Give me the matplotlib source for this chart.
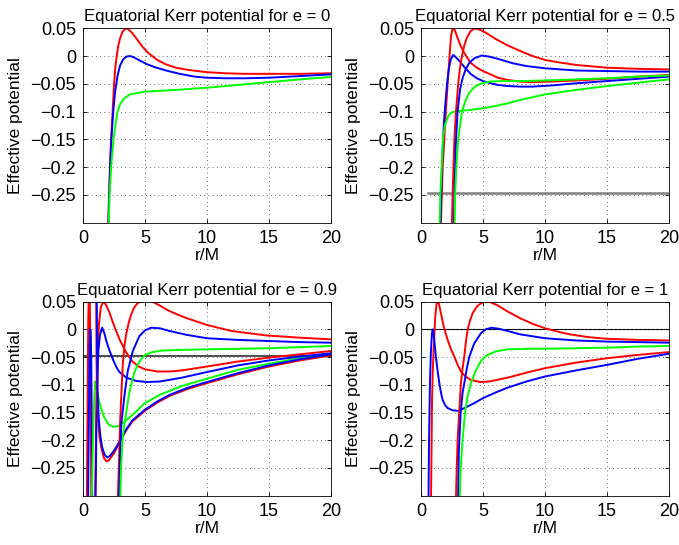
import matplotlib
matplotlib.use("Agg")
import matplotlib.pyplot as plt

plt.rcParams['font.family'] = ['Liberation Sans', 'DejaVu Sans']
plt.rcParams['font.size'] = 12

# spin values shown in the titles
e_values = ["0", "0.5", "0.9", "1"]

# ---- e = 0 : (r/M, effective potential)
e0_red = [(2.03, -0.32), (2.1, -0.26), (2.2, -0.19), (2.3, -0.14), (2.4, -0.1), (2.52, -0.05),
          (2.62, -0.02), (2.73, 0.0), (2.85, 0.018), (3.0, 0.032), (3.2, 0.044), (3.45, 0.05),
          (3.7, 0.048), (4.0, 0.041), (4.4, 0.029), (4.8, 0.017), (5.3, 0.005), (6.0, -0.007),
          (6.7, -0.015), (7.5, -0.021), (8.5, -0.025), (10, -0.029), (11.5, -0.031), (13, -0.032),
          (15, -0.032), (17.5, -0.032), (20, -0.031)]
e0_blue = [(2.04, -0.32), (2.1, -0.27), (2.2, -0.2), (2.3, -0.15), (2.45, -0.1), (2.6, -0.065),
           (2.8, -0.035), (3.0, -0.017), (3.25, -0.006), (3.5, -0.001), (3.8, 0.0), (4.1, -0.002),
           (4.5, -0.007), (5.1, -0.014), (5.8, -0.02), (6.7, -0.026), (7.8, -0.032), (9, -0.037),
           (10, -0.039), (11.5, -0.04), (13, -0.04), (15, -0.039), (17.5, -0.036), (20, -0.033)]
e0_green = [(2.07, -0.32), (2.15, -0.25), (2.28, -0.2), (2.47, -0.15), (2.65, -0.12), (2.8, -0.1),
            (3.0, -0.087), (3.3, -0.077), (3.8, -0.069), (4.5, -0.066), (5, -0.064), (7.5, -0.061),
            (10, -0.057), (12.5, -0.052), (15, -0.047), (17.5, -0.042), (20, -0.0375)]

# ---- e = 0.5
e05_red_pro = [(1.58, -0.32), (1.65, -0.27), (1.75, -0.2), (1.88, -0.15), (2.0, -0.1), (2.15, -0.05),
               (2.3, 0.0), (2.42, 0.035), (2.55, 0.05), (2.7, 0.048), (2.96, 0.032), (3.2, 0.018),
               (3.5, 0.005), (4.0, -0.012), (4.5, -0.021), (5.0, -0.027), (5.6, -0.033), (6.2, -0.039),
               (7.0, -0.043), (8.0, -0.046), (9, -0.047), (10.5, -0.046), (12.5, -0.044), (15, -0.041),
               (17.5, -0.037), (20, -0.034)]
e05_blue_pro = [(1.55, -0.32), (1.62, -0.25), (1.72, -0.18), (1.85, -0.12), (1.95, -0.09), (2.1, -0.05),
                (2.25, -0.022), (2.4, -0.006), (2.6, 0.002), (2.8, -0.002), (3.1, -0.009), (3.5, -0.02),
                (4.0, -0.032), (4.5, -0.04), (5.0, -0.045), (5.6, -0.049), (6.2, -0.052), (7, -0.054),
                (8, -0.055), (9, -0.055), (10.5, -0.053), (12.5, -0.049), (15, -0.045), (17.5, -0.041),
                (20, -0.037)]
e05_green_pro = [(1.48, -0.32), (1.56, -0.25), (1.67, -0.2), (1.77, -0.15), (1.9, -0.128), (2.0, -0.12),
                 (2.2, -0.108), (2.42, -0.102), (2.7, -0.1), (3.0, -0.099), (3.5, -0.098), (4.0, -0.097),
                 (5, -0.094), (6, -0.09), (7, -0.085), (8, -0.079), (10, -0.069), (12.5, -0.061),
                 (15, -0.054), (17.5, -0.048), (20, -0.042)]
e05_red_ret = [(2.47, -0.32), (2.55, -0.25), (2.69, -0.15), (2.82, -0.1), (3.0, -0.05), (3.15, -0.02),
               (3.3, 0.0), (3.5, 0.02), (3.7, 0.033), (4.0, 0.045), (4.35, 0.05), (4.8, 0.047),
               (5.3, 0.041), (6, 0.031), (7, 0.019), (8, 0.009), (9, 0.0), (10, -0.007), (11, -0.011),
               (12.5, -0.016), (15, -0.021), (17.5, -0.023), (20, -0.024)]
e05_blue_ret = [(2.63, -0.32), (2.7, -0.25), (2.8, -0.16), (2.95, -0.1), (3.15, -0.06), (3.35, -0.04),
                (3.6, -0.024), (3.9, -0.012), (4.3, -0.004), (4.9, 0.001), (5.5, -0.001), (6.2, -0.005),
                (7.4, -0.013), (8.5, -0.018), (10, -0.022), (12.5, -0.026), (15, -0.027), (17.5, -0.028),
                (20, -0.028)]
e05_green_ret = [(2.7, -0.32), (2.75, -0.25), (2.85, -0.2), (3.0, -0.15), (3.3, -0.1), (3.6, -0.08),
                 (3.9, -0.066), (4.3, -0.056), (4.8, -0.05), (5.5, -0.046), (6.5, -0.045), (8, -0.045),
                 (10, -0.044), (12.5, -0.042), (15, -0.04), (17.5, -0.037), (20, -0.035)]
e05_level = (-0.246, 0.6, 20)

# ---- e = 0.9
e09_red_spike = [(0.32, -0.32), (0.36, -0.2), (0.40, -0.08), (0.44, 0.02), (0.48, 0.06), (0.52, 0.07),
                 (0.56, 0.05), (0.6, -0.02), (0.64, -0.15), (0.68, -0.32)]
e09_blue_spike = [(0.42, -0.32), (0.47, -0.2), (0.52, -0.08), (0.56, -0.02), (0.6, 0.0), (0.64, -0.01),
                  (0.68, -0.06), (0.72, -0.18), (0.76, -0.32)]
e09_green_pro = [(0.7, -0.32), (0.8, -0.22), (0.88, -0.15), (0.95, -0.11), (1.0, -0.094), (1.1, -0.105),
                 (1.2, -0.118), (1.35, -0.132), (1.5, -0.145), (1.75, -0.16), (2.1, -0.172), (2.5, -0.176),
                 (2.9, -0.174), (3.5, -0.164), (4.3, -0.148), (5, -0.133), (6.2, -0.118), (8, -0.102),
                 (10, -0.089), (12.5, -0.073), (15, -0.062), (17.5, -0.052), (20, -0.044)]
e09_red_pro = [(0.98, -0.32), (1.05, -0.2), (1.12, -0.1), (1.2, -0.03), (1.3, 0.01), (1.45, 0.04),
               (1.66, 0.05), (1.85, 0.045), (2.15, 0.03), (2.4, 0.014), (2.68, -0.003), (3.0, -0.02),
               (3.5, -0.042), (4.0, -0.058), (4.5, -0.067), (5.0, -0.072), (6.0, -0.076), (7, -0.076),
               (8, -0.074), (10, -0.067), (12.5, -0.058), (15, -0.051), (17.5, -0.045), (20, -0.039)]
e09_blue_pro = [(1.02, -0.32), (1.08, -0.2), (1.15, -0.1), (1.25, -0.04), (1.38, -0.01), (1.56, 0.003),
                (1.75, -0.008), (1.88, -0.02), (2.1, -0.035), (2.42, -0.054), (2.7, -0.068), (2.95, -0.077),
                (3.5, -0.087), (4.3, -0.093), (5.2, -0.095), (6.2, -0.094), (7, -0.091), (8, -0.087),
                (10, -0.077), (12.5, -0.065), (15, -0.056), (17.5, -0.049), (20, -0.043)]
e09_red_low = [(1.08, 0.06), (1.1, -0.05), (1.13, -0.1), (1.18, -0.14), (1.25, -0.17), (1.35, -0.195),
               (1.5, -0.215), (1.7, -0.232), (1.9, -0.238), (2.1, -0.236), (2.5, -0.224), (3.0, -0.202),
               (3.5, -0.182), (4, -0.166), (5, -0.147), (6, -0.132), (7, -0.12), (8.5, -0.107),
               (10, -0.097), (12.5, -0.081), (15, -0.067), (17.5, -0.056), (20, -0.047)]
e09_blue_low = [(1.12, 0.06), (1.15, -0.05), (1.2, -0.12), (1.28, -0.16), (1.4, -0.19), (1.55, -0.212),
                (1.75, -0.226), (1.95, -0.231), (2.2, -0.228), (2.6, -0.216), (3, -0.2), (3.5, -0.18),
                (4, -0.164), (5, -0.145), (6, -0.13), (7, -0.118), (8.5, -0.105), (10, -0.095),
                (12.5, -0.079), (15, -0.065), (17.5, -0.054), (20, -0.045)]
e09_red_ret = [(2.8, -0.32), (2.9, -0.25), (3.0, -0.17), (3.09, -0.123), (3.22, -0.063), (3.35, -0.03),
               (3.5, -0.008), (3.7, 0.012), (3.9, 0.027), (4.15, 0.04), (4.45, 0.048), (4.8, 0.051),
               (5.2, 0.052), (5.6, 0.05), (6.2, 0.043), (6.8, 0.035), (7.6, 0.027), (8.4, 0.02),
               (10, 0.008), (12, -0.003), (14.8, -0.011), (17.5, -0.015), (20, -0.018)]
e09_blue_ret = [(2.9, -0.32), (3.0, -0.23), (3.1, -0.17), (3.35, -0.12), (3.62, -0.075), (4.03, -0.039),
                (4.56, -0.012), (5.0, -0.002), (5.5, 0.003), (6.2, 0.002), (7, -0.003), (8.4, -0.01),
                (10, -0.016), (12.5, -0.019), (15, -0.021), (17.5, -0.023), (20, -0.024)]
e09_green_ret = [(3.0, -0.32), (3.08, -0.25), (3.2, -0.2), (3.35, -0.17), (3.5, -0.15), (3.7, -0.12),
                 (3.9, -0.099), (4.15, -0.078), (4.43, -0.063), (4.75, -0.052), (5.1, -0.045),
                 (5.6, -0.041), (6.5, -0.038), (8, -0.037), (10, -0.036), (12.5, -0.035), (15, -0.034),
                 (17.5, -0.032), (20, -0.03)]
e09_level = (-0.048, 0, 20)

# ---- e = 1
e1_red_pro = [(0.8, -0.32), (0.85, -0.22), (0.89, -0.127), (0.95, -0.075), (1.02, -0.037), (1.1, 0.0),
              (1.15, 0.023), (1.25, 0.045), (1.35, 0.05), (1.45, 0.046), (1.61, 0.029), (1.8, 0.008),
              (2.0, -0.008), (2.15, -0.019), (2.4, -0.035), (2.68, -0.049), (3.0, -0.066), (3.22, -0.076),
              (3.6, -0.085), (4.0, -0.091), (4.75, -0.095), (5.5, -0.094), (7, -0.087), (8.5, -0.078),
              (10, -0.07), (12.5, -0.06), (15, -0.052), (17.5, -0.046), (20, -0.041)]
e1_blue_pro = [(0.6, -0.32), (0.65, -0.2), (0.72, -0.1), (0.8, -0.04), (0.88, -0.008), (0.94, 0.0),
               (1.0, -0.006), (1.1, -0.025), (1.2, -0.049), (1.34, -0.075), (1.48, -0.097), (1.6, -0.113),
               (1.74, -0.127), (1.95, -0.137), (2.15, -0.142), (2.55, -0.146), (3.0, -0.147), (3.5, -0.142),
               (4.3, -0.133), (5, -0.124), (6, -0.114), (7, -0.105), (8.5, -0.094), (10, -0.085),
               (12.5, -0.074), (15, -0.064), (17.5, -0.053), (20, -0.044)]
e1_red_ret = [(2.8, -0.32), (2.88, -0.25), (2.95, -0.2), (3.08, -0.15), (3.22, -0.097), (3.35, -0.07),
              (3.49, -0.049), (3.62, -0.022), (3.76, -0.001), (3.95, 0.016), (4.16, 0.029), (4.5, 0.041),
              (4.83, 0.047), (5.15, 0.05), (5.6, 0.049), (6.2, 0.043), (7, 0.032), (8, 0.02), (9, 0.01),
              (10, 0.002), (11, -0.004), (12, -0.009), (13.5, -0.014), (15, -0.017), (17.5, -0.019),
              (20, -0.02)]
e1_blue_ret = [(2.98, -0.32), (3.05, -0.22), (3.2, -0.15), (3.35, -0.115), (3.49, -0.097), (3.7, -0.07),
               (3.9, -0.049), (4.3, -0.025), (4.83, -0.007), (5.2, 0.0), (5.7, 0.003), (6.3, 0.001),
               (7, -0.003), (8, -0.009), (10, -0.016), (12.5, -0.02), (15, -0.022), (17.5, -0.023),
               (20, -0.024)]
e1_green_ret = [(3.1, -0.32), (3.2, -0.25), (3.35, -0.2), (3.55, -0.15), (3.76, -0.12), (4.03, -0.097),
                (4.4, -0.075), (4.83, -0.057), (5.3, -0.047), (6, -0.04), (7, -0.036), (8.5, -0.035),
                (10, -0.035), (12.5, -0.034), (15, -0.033), (17.5, -0.031), (20, -0.03)]
e1_level = (0.0, 0, 20)

ytick_vals = [0.05, 0, -0.05, -0.1, -0.15, -0.2, -0.25]
ytick_text = ["0.05", "0", "\u22120.05", "\u22120.1", "\u22120.15", "\u22120.2", "\u22120.25"]
xtick_vals = [0, 5, 10, 15, 20]

RED, BLUE, GREEN = "#ff0000", "#0000ff", "#00ff00"

panels = [
    ([(e0_red, RED), (e0_blue, BLUE), (e0_green, GREEN)], None, None),
    ([(e05_red_pro, RED), (e05_blue_pro, BLUE), (e05_green_pro, GREEN),
      (e05_red_ret, RED), (e05_blue_ret, BLUE), (e05_green_ret, GREEN)], e05_level, ("#7f7f7f", 1.8)),
    ([(e09_red_spike, RED), (e09_blue_spike, BLUE), (e09_green_pro, GREEN),
      (e09_red_pro, RED), (e09_blue_pro, BLUE), (e09_red_low, RED), (e09_blue_low, BLUE),
      (e09_red_ret, RED), (e09_blue_ret, BLUE), (e09_green_ret, GREEN)], e09_level, ("#4d4d4d", 1.4)),
    ([(e1_red_pro, RED), (e1_blue_pro, BLUE),
      (e1_red_ret, RED), (e1_blue_ret, BLUE), (e1_green_ret, GREEN)], e1_level, ("#000000", 0.8)),
]

positions = [[0.122, 0.5914, 0.3655, 0.3567], [0.620, 0.5914, 0.3655, 0.3567],
             [0.122, 0.0905, 0.3655, 0.3560], [0.620, 0.0905, 0.3655, 0.3560]]

fig = plt.figure(figsize=(6.79, 5.45), dpi=100)

for (curves, level, lstyle), pos, e in zip(panels, positions, e_values):
    ax = fig.add_axes(pos)
    if level is not None:
        v, r0, r1 = level
        ax.plot([r0, r1], [v, v], color=lstyle[0], lw=lstyle[1], zorder=1)
    for pts, col in curves:
        ax.plot([p[0] for p in pts], [p[1] for p in pts], color=col, lw=1.4, zorder=2)
    ax.set_xlim(0, 20)
    ax.set_ylim(-0.3, 0.05)
    ax.set_xticks(xtick_vals)
    ax.set_yticks(ytick_vals)
    ax.set_yticklabels(ytick_text)
    ax.tick_params(direction="in", length=3, width=0.6, top=True, right=True, pad=5, labelsize=13)
    ax.grid(True, linestyle=(0, (1, 4)), color="0.25", linewidth=0.6)
    for s in ax.spines.values():
        s.set_linewidth(0.6)
    ax.set_title(f"Equatorial Kerr potential for e = {e}", fontsize=12, pad=5)
    ax.set_xlabel("r/M", labelpad=1, fontsize=12.5)
    ax.set_ylabel("Effective potential", labelpad=5, fontsize=12.5)

fig.savefig("out.png", dpi=100)
